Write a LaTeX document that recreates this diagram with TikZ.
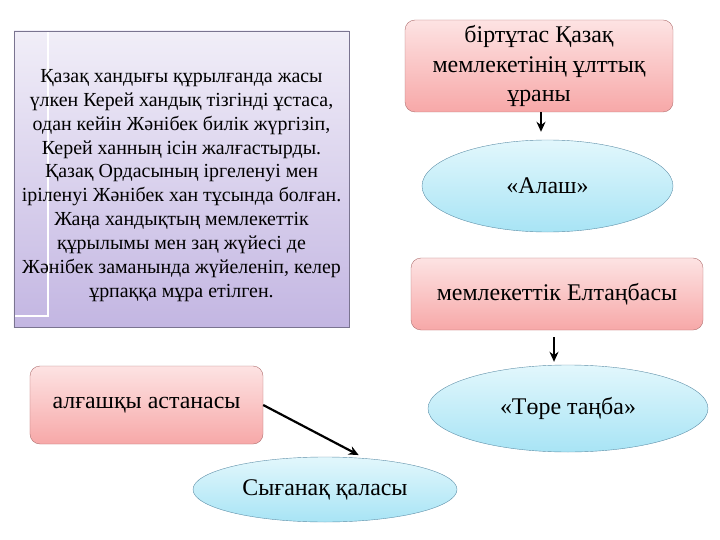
\documentclass[tikz,border=0pt]{standalone}
\usepackage{fontspec}
\setmainfont{Liberation Serif}
\usetikzlibrary{shapes.geometric,arrows.meta}

\definecolor{lavtop}{HTML}{F1EEF8}
\definecolor{lavbot}{HTML}{C3B6E2}
\definecolor{lavline}{HTML}{7A7490}
\definecolor{pinktop}{HTML}{FDE3E3}
\definecolor{pinkbot}{HTML}{F7A8A8}
\definecolor{pinkline}{HTML}{B07070}
\definecolor{bluetop}{HTML}{E2F7FC}
\definecolor{bluebot}{HTML}{A8E4F5}
\definecolor{blueline}{HTML}{5E8FA8}

\tikzset{
    infobox/.style={draw=lavline, top color=lavtop, bottom color=lavbot,
        minimum width=335bp, minimum height=296bp, align=center,
        font=\fontsize{20}{24}\selectfont,
        path picture={\draw[white, line width=1.2bp]
            ([xshift=34bp]path picture bounding box.north west)
            -- ([xshift=34bp, yshift=11bp]path picture bounding box.south west)
            -- ([yshift=11bp]path picture bounding box.south west);}},
    pinkbox/.style={draw=pinkline, rounded corners=10bp, top color=pinktop,
        bottom color=pinkbot, align=center, font=\fontsize{24}{30}\selectfont},
    blueoval/.style={ellipse, draw=blueline, top color=bluetop,
        bottom color=bluebot, font=\fontsize{24}{30}\selectfont},
    link/.style={-{Stealth[length=10bp,width=9bp]}, line width=2.2bp, black}
}

\begin{document}
\begin{tikzpicture}[x=1bp,y=-1bp]
\useasboundingbox (0,0) rectangle (720,540);

% Left text
\node[infobox, inner sep=0pt] (info) at (181.5,179) {\rule{0pt}{26bp}Қазақ хандығы құрылғанда жасы\\
    үлкен Керей хандық тізгінді ұстаса,\\
    одан кейін Жәнібек билік жүргізіп,\\
    Керей ханның ісін жалғастырды.\\
    Қазақ Ордасының іргеленуі мен\\
    іріленуі Жәнібек хан тұсында болған.\\
    Жаңа хандықтың мемлекеттік\\
    құрылымы мен заң жүйесі де\\
    Жәнібек заманында жүйеленіп, келер\\
    ұрпаққа мұра етілген.};

% Right column
\node[pinkbox, minimum width=268bp, minimum height=92bp, inner sep=1bp] (uran) at (539,66)
    {біртұтас Қазақ\\ мемлекетінің ұлттық\\ ұраны};
\node[blueoval, minimum width=251bp, minimum height=92bp] (alash) at (547.5,186)
    {«Алаш»};
\node[pinkbox, minimum width=292bp, minimum height=72bp] (eltanba) at (557,294)
    {мемлекеттік Елтаңбасы};
\node[blueoval, minimum width=280bp, minimum height=87bp] (tore) at (568,408.5)
    {«Төре таңба»};

% Bottom
\node[pinkbox, minimum width=233bp, minimum height=78bp] (astana) at (146.5,405)
    {алғашқы астанасы};
\node[blueoval, minimum width=264bp, minimum height=65bp] (syganak) at (325,489.5)
    {Сығанақ қаласы};

\draw[link, shorten >=8bp] (uran.south -| 541,0) -- (alash.north -| 541,0);
\draw[link, shorten <=7bp, shorten >=3bp] (eltanba.south -| 554,0) -- (tore.north -| 554,0);
\draw[link, shorten >=7bp] (astana.east) -- (syganak.38);
\end{tikzpicture}
\end{document}
